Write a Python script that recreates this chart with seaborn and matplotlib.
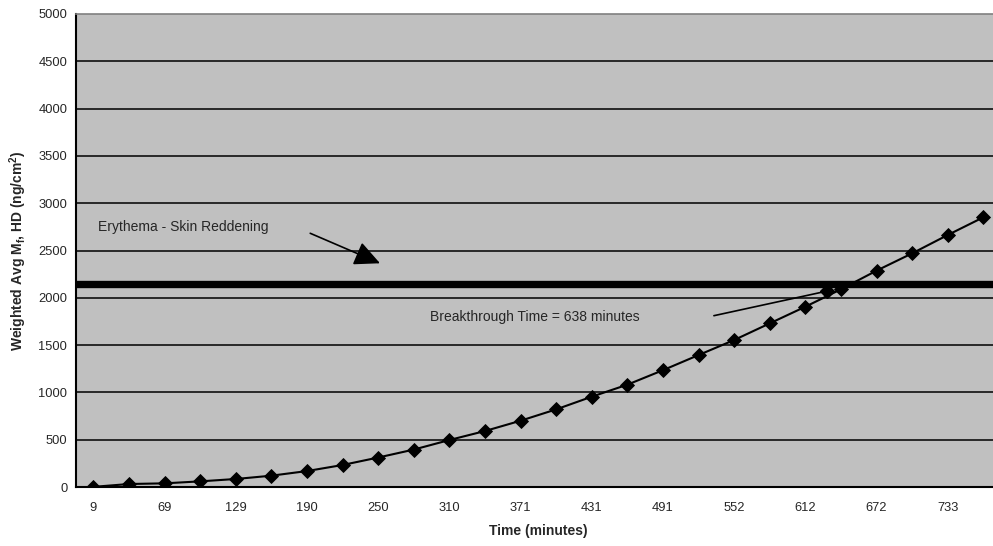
import numpy as np
import pandas as pd
import seaborn as sns
import matplotlib.pyplot as plt

# sampling times (minutes) and weighted average mass
times = ["9", "39", "69", "99", "129", "160", "190", "220", "250", "280", "310", "341", "371",
         "401", "431", "461", "491", "522", "552", "582", "612", "642", "672", "703", "733", "763"]
mass = [2, 32, 39, 60, 85, 120, 169, 233, 312, 396, 497, 592, 701,
        821, 955, 1082, 1235, 1395, 1554, 1730, 1906, 2090, 2287, 2470, 2664, 2851]
threshold = 2150  # erythema level
y_ticks = [0, 500, 1000, 1500, 2000, 2500, 3000, 3500, 4000, 4500, 5000]

df = pd.DataFrame({"pos": np.arange(len(times)), "time": times, "mass": mass})

sns.set_style("white")
plt.rcParams["font.family"] = ["Liberation Sans", "DejaVu Sans"]

fig = plt.figure(figsize=(9.93, 5.46), dpi=100)
ax = fig.add_axes([0.0762, 0.108, 0.932, 0.8664])
ax.set_facecolor("#C0C0C0")

# horizontal gridlines
for v in y_ticks[1:-1]:
    ax.axhline(v, color="black", lw=1.1, zorder=1)

# erythema threshold
ax.axhline(threshold, color="black", lw=5.3, zorder=2)

sns.lineplot(data=df, x="pos", y="mass", color="black", lw=1.5, marker="D",
             markersize=7.5, markeredgecolor="black", markeredgewidth=0.6, ax=ax, zorder=3)

n = len(times)
ax.set_xlim(-0.5, n - 0.5)
ax.set_ylim(0, 5000)

# category style x axis: ticks on the boundaries, labels on every other category
ax.set_xticks(np.arange(0, n, 2))
ax.set_xticklabels(times[::2], fontsize=9.3)
ax.set_xticks(np.arange(-0.5, n, 1), minor=True)
ax.tick_params(axis="x", which="major", length=0, pad=11)
ax.tick_params(axis="x", which="minor", length=4, width=1.2, direction="out", color="black")

ax.set_yticks(y_ticks)
ax.set_yticklabels([str(v) for v in y_ticks], fontsize=9.3)
ax.tick_params(axis="y", which="major", length=6, width=1.2, direction="inout", pad=3, color="black")

for side in ["left", "bottom"]:
    ax.spines[side].set_color("black")
    ax.spines[side].set_linewidth(1.5)
ax.spines["top"].set_color("#808080")
ax.spines["top"].set_linewidth(1.2)
ax.spines["right"].set_visible(False)

ax.set_xlabel("Time (minutes)", fontsize=10, fontweight="bold", labelpad=7)
ax.set_ylabel("Weighted Avg M$_\\mathregular{f}$, HD (ng/cm$^\\mathregular{2}$)",
              fontsize=10, fontweight="bold", labelpad=7)

# annotations
ax.text(0.13, 2745, "Erythema - Skin Reddening", fontsize=10, va="center", ha="left")
ax.annotate("", xy=(8.05, 2365), xytext=(6.09, 2682),
            arrowprops=dict(arrowstyle="-|>,head_length=1.05,head_width=0.5",
                            mutation_scale=15, color="black", lw=1.2,
                            shrinkA=0, shrinkB=0))

ax.text(9.45, 1794, "Breakthrough Time = 638 minutes", fontsize=10, va="center", ha="left")
ax.annotate("", xy=(20.62, 2072), xytext=(17.43, 1811),
            arrowprops=dict(arrowstyle="-", color="black", lw=1.2, shrinkA=0, shrinkB=0))
ax.plot([20.62], [2072], marker="D", color="black", markersize=7.5, zorder=4)

fig.savefig("out.png", dpi=100)
